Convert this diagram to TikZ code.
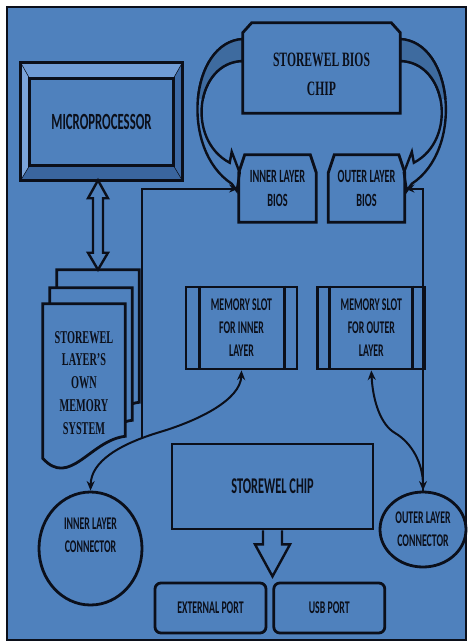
\documentclass[tikz,border=0pt]{standalone}
\usepackage{fontspec}
\setmainfont{Carlito}
\newfontfamily\condsans[FakeStretch=0.55]{Carlito}
\newfontfamily\condserif[FakeStretch=0.57]{Liberation Serif}
\usetikzlibrary{arrows.meta,positioning,calc,shapes.geometric}
\pgfdeclarelayer{paper}
\pgfdeclarelayer{art}
\pgfsetlayers{paper,art,main}
\definecolor{panel}{HTML}{4F81BD}
\definecolor{bevellight}{HTML}{7BA4DA}
\definecolor{bevelmid}{HTML}{709CD5}
\definecolor{beveldark}{HTML}{3D6AA6}
\definecolor{bevelshade}{HTML}{3A659E}
\definecolor{fold}{HTML}{3E6B9F}
\definecolor{ink}{HTML}{0B0F1A}
\newcommand{\pxu}{0.25mm}
\newcommand{\labelsize}{\fontsize{12.7}{16.3}\selectfont}
\newcommand{\cpusize}{\fontsize{16.5}{20}\selectfont}
\newcommand{\chipsize}{\fontsize{16}{20}\selectfont}
\newcommand{\biossize}{\fontsize{13.3}{17}\selectfont}
\newcommand{\titlesize}{\fontsize{14.5}{20.6}\selectfont}
\newcommand{\docsize}{\fontsize{12.8}{16.3}\selectfont}
\tikzset{
  plate/.style={inner sep=0pt, align=center, text=ink, font=\condsans\bfseries\labelsize},
  rim/.style={draw=ink, line width=0.7mm, line join=miter},
  box/.style={plate, rim},
  block/.style={fill=panel, draw=ink, line width=0.6mm, line join=miter},
  wire/.style={draw=ink, line width=0.5mm},
  oneway/.style={wire, -{Stealth[length=2.4mm,width=2mm]}},
  twoway/.style={wire, {Stealth[length=2.4mm,width=2mm]}-{Stealth[length=2.4mm,width=2mm]}},
}
% outline with the two top corners cut off
\newcommand{\chamfer}[3]{\draw[rim] (#1.south west) -- ($(#1.north west)+(0,#3)$) -- ($(#1.north west)+(#2,0)$) -- ($(#1.north east)+(-#2,0)$) -- ($(#1.north east)+(0,#3)$) -- (#1.south east) -- cycle;}
% the two inner bars of a memory slot
\newcommand{\slotbars}[3]{\draw[rim] ($(#1.north west)+(#2,0)$) -- ($(#1.south west)+(#2,0)$); \draw[rim] ($(#1.north east)+(-#3,0)$) -- ($(#1.south east)+(-#3,0)$);}

\begin{document}
\begin{tikzpicture}[x=\pxu, y=-\pxu]
\useasboundingbox (0,0) rectangle (470,642);
\begin{pgfonlayer}{paper}
\fill[white] (0,0) rectangle (470,642);
\filldraw[fill=panel, draw=ink, line width=0.6mm] (7,7) rectangle (466,640);
\end{pgfonlayer}

% nodes
\node[plate, minimum width=161*\pxu, minimum height=117*\pxu, font=\condsans\bfseries\cpusize] (mp) at (101.5,121.5) {MICROPROCESSOR};
\node[plate, minimum width=82*\pxu, minimum height=158*\pxu, font=\condserif\bfseries\docsize] (mem) at (84,383) {STOREWEL\\LAYER’S\\OWN\\MEMORY\\SYSTEM};
\node[plate, minimum width=157*\pxu, minimum height=90*\pxu] (bios) at (321.5,68) {};
\node[plate, font=\condserif\bfseries\titlesize] (biostext) at (321.5,74.5) {STOREWEL BIOS\\CHIP};
\node[plate, minimum width=77*\pxu, minimum height=67*\pxu, font=\condsans\bfseries\biossize] (ibios) at (277.5,188.5) {INNER LAYER\\BIOS};
\node[plate, minimum width=76*\pxu, minimum height=67*\pxu, font=\condsans\bfseries\biossize, right=3mm of ibios] (obios) {OUTER LAYER\\BIOS};
\node[box, minimum width=111*\pxu, minimum height=82*\pxu] (islot) at (241.5,328) {MEMORY SLOT\\FOR INNER\\LAYER};
\node[box, minimum width=107*\pxu, minimum height=82*\pxu, right=4.5mm of islot] (oslot) {MEMORY SLOT\\FOR OUTER\\LAYER};
\node[box, minimum width=201*\pxu, minimum height=85*\pxu, font=\condsans\bfseries\chipsize] (chip) at (272.5,486.5) {STOREWEL CHIP};
\node[box, rounded corners=1.5mm, minimum width=111*\pxu, minimum height=50*\pxu] (ext) at (210.5,608) {EXTERNAL PORT};
\node[box, rounded corners=1.5mm, minimum width=111*\pxu, minimum height=50*\pxu, right=1.25mm of ext] (usb) {USB PORT};
\node[box, ellipse, minimum width=103*\pxu, minimum height=113*\pxu] (icon) at (90.5,548.5) {};
\node[plate] (icontext) at (90.5,535.5) {INNER LAYER\\CONNECTOR};
\node[box, ellipse, minimum width=86*\pxu, minimum height=75*\pxu] (ocon) at (423,529.5) {OUTER LAYER\\CONNECTOR};

\begin{pgfonlayer}{art}
% bevelled processor frame
\fill[bevelmid] (mp.north west) -- (mp.north east) -- ($(mp.north east)+(-9,16)$) -- ($(mp.north west)+(9,16)$) -- cycle;
\fill[bevellight] (mp.north west) -- ($(mp.north west)+(9,16)$) -- ($(mp.south west)+(9,-15)$) -- (mp.south west) -- cycle;
\fill[beveldark] (mp.north east) -- (mp.south east) -- ($(mp.south east)+(-9,-15)$) -- ($(mp.north east)+(-9,16)$) -- cycle;
\fill[bevelshade] (mp.south west) -- (mp.south east) -- ($(mp.south east)+(-9,-15)$) -- ($(mp.south west)+(9,-15)$) -- cycle;
\draw[ink, thin] (mp.north west) -- ($(mp.north west)+(9,16)$) (mp.north east) -- ($(mp.north east)+(-9,16)$)
  (mp.south west) -- ($(mp.south west)+(9,-15)$) (mp.south east) -- ($(mp.south east)+(-9,-15)$);
\draw[rim] (mp.north west) rectangle (mp.south east);
\draw[rim] ($(mp.north west)+(9,16)$) rectangle ($(mp.south east)+(-9,-15)$);

% stacked memory pages
\foreach \dx/\dy in {14/-34,7/-16,0/0}{
  \filldraw[rim, fill=panel] ($(mem.south west)+(\dx,\dy-4)$) -- ($(mem.north west)+(\dx,\dy)$) -- ($(mem.north east)+(\dx,\dy)$)
    -- ($(mem.south east)+(\dx,\dy-26)$) .. controls +(-35,4) and +(27,30) .. ($(mem.south west)+(\dx,\dy-4)$) -- cycle;
}

% processor <-> memory
\coordinate (backtop) at ($(mem.north)+(14,-34)$);
\coordinate (cputap) at (mp.south -| backtop);
\filldraw[block] (cputap) -- ($(cputap)+(10,18)$) -- ($(cputap)+(5,18)$) -- ($(backtop)+(5,-17)$) -- ($(backtop)+(10,-17)$) -- (backtop)
  -- ($(backtop)+(-10,-17)$) -- ($(backtop)+(-5,-17)$) -- ($(cputap)+(-5,18)$) -- ($(cputap)+(-10,18)$) -- cycle;

% curved arrows from the bios chip
\filldraw[block] ($(bios.west)+(0,-29)$) coordinate (la)
  .. controls +(-53,3) and +(-52,-34) .. ($(ibios.north west)+(-7,29)$) coordinate (lo)
  -- ($(ibios.north west)+(-2,36)$) -- ($(ibios.north west)+(1,18)$) -- ($(ibios.north west)+(-7,-3)$)
  -- ($(ibios.north west)+(-9,8)$) coordinate (li)
  .. controls +(-44,-23) and +(-47,1) .. ($(bios.west)+(0,-7)$) coordinate (lb) -- cycle;
\filldraw[block] ($(bios.east)+(0,-29)$) coordinate (ra)
  .. controls +(53,3) and +(52,-34) .. ($(obios.north east)+(7,29)$) coordinate (ro)
  -- ($(obios.north east)+(2,36)$) -- ($(obios.north east)+(-1,18)$) -- ($(obios.north east)+(7,-3)$)
  -- ($(obios.north east)+(9,8)$) coordinate (ri)
  .. controls +(44,-23) and +(47,1) .. ($(bios.east)+(0,-7)$) coordinate (rb) -- cycle;
\begin{scope}
\clip (0,0) rectangle (470,98);
\filldraw[block, fill=fold] (la) .. controls +(-53,3) and +(-52,-34) .. (lo) -- (li) .. controls +(-44,-23) and +(-47,1) .. (lb) -- cycle;
\filldraw[block, fill=fold] (ra) .. controls +(53,3) and +(52,-34) .. (ro) -- (ri) .. controls +(44,-23) and +(47,1) .. (rb) -- cycle;
\end{scope}
\chamfer{bios}{9}{10}
\chamfer{ibios}{6}{18}
\chamfer{obios}{6}{18}

% chip -> ports
\filldraw[block] ($(chip.south)+(-9.5,0)$) -- ($(chip.south)+(-9.5,14)$) -- ($(chip.south)+(-17.5,14)$) -- ($(chip.south)+(0,46)$)
  -- ($(chip.south)+(17.5,14)$) -- ($(chip.south)+(9.5,14)$) -- ($(chip.south)+(9.5,0)$);
\end{pgfonlayer}

\slotbars{islot}{15}{14}
\slotbars{oslot}{13}{14}

% connectors
\coordinate (ibend) at (160,432);
\coordinate (obend) at (395,433);
\coordinate (memtap) at (142,438);
\draw[twoway] (islot.south) .. controls +(-1,29) and +(40,-12) .. (ibend) .. controls +(-40,12) and +(0.5,-29.5) .. (icon.north);
\draw[twoway] (oslot.south) .. controls +(1.5,31) and +(-14,-8) .. (obend) .. controls +(17,10) and +(0,-27) .. (ocon.north);
\draw[oneway] (memtap) |- (ibios.west);
\draw[oneway] (ocon.north) |- (obios.east);
\end{tikzpicture}
\end{document}
